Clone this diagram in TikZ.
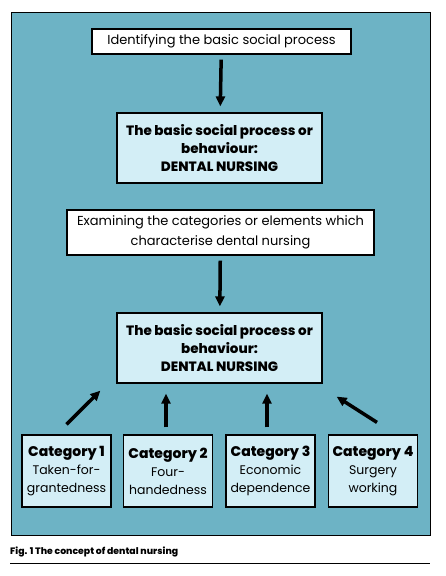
\documentclass[tikz,border=0pt]{standalone}
\usepackage{fontspec}
\setmainfont[BoldFont={Poppins ExtraBold}]{Poppins}
\usetikzlibrary{arrows.meta}
\definecolor{panel}{HTML}{6DB3C5}
\definecolor{pale}{HTML}{D3EEF6}
\newcommand{\cattitle}[1]{{\fontsize{14}{18}\selectfont\bfseries #1}}
\begin{document}
\begin{tikzpicture}[x=1pt,y=-1pt,
	stepbox/.style={draw=black,line width=1.2pt,fill=white,align=center,inner sep=0pt,font=\fontsize{13}{20}\selectfont},
	keybox/.style={draw=black,line width=1.2pt,fill=pale,align=center,inner sep=0pt,font=\fontsize{13.5}{18}\selectfont\bfseries,minimum width=205pt,minimum height=70pt},
	catbox/.style={draw=black,line width=1.2pt,fill=pale,align=center,inner sep=0pt,font=\fontsize{12.5}{18}\selectfont,minimum width=89pt,minimum height=72pt},
	flow/.style={line width=3.5pt,-{Triangle[width=9pt,length=10pt]}}]
	\useasboundingbox (0,0) rectangle (446,576);
	\fill[white] (0,0) rectangle (446,576);
	\draw[fill=panel,line width=0.8pt] (11,12) rectangle (430,535);
	% top half
	\node[stepbox,minimum width=259pt,minimum height=25pt] (ident) at (221.5,41.5) {Identifying the basic social process};
	\node[keybox] (bsp1) at (219.5,148) {The basic social process or\\behaviour:\\DENTAL NURSING};
	\node[stepbox,minimum width=307pt,minimum height=45pt] (exam) at (220.5,232.5) {Examining the categories or elements which\\characterise dental nursing};
	\node[keybox] (bsp2) at (219.5,348) {The basic social process or\\behaviour:\\DENTAL NURSING};
	\draw[flow,shorten <=5pt,shorten >=6pt] (ident) -- (bsp1);
	\draw[flow,shorten <=5pt,shorten >=6pt] (exam) -- (bsp2);
	% categories
	\node[catbox] (cat1) at (66.5,471) {\cattitle{Category 1}\\Taken-for-\\grantedness};
	\node[catbox] (cat2) at (168,471) {\cattitle{Category 2}\\Four-\\handedness};
	\node[catbox] (cat3) at (270.5,471) {\cattitle{Category 3}\\Economic\\dependence};
	\node[catbox] (cat4) at (373,471) {\cattitle{Category 4}\\Surgery\\working};
	\draw[flow] ([shift={(0,-10)}]cat1.north) -- ([shift={(-16,7)}]bsp2.south west);
	\draw[flow] ([shift={(-2,-7)}]cat2.north) -- ([shift={(-53.5,10)}]bsp2.south);
	\draw[flow] ([shift={(-3.5,-7)}]cat3.north) -- ([shift={(47.5,10)}]bsp2.south);
	\draw[flow] ([shift={(4,-12)}]cat4.north) -- ([shift={(14,13)}]bsp2.south east);
	% caption
	\node[anchor=west,inner sep=0pt,font=\fontsize{9.3}{10}\selectfont\bfseries] (cap) at (10,552) {Fig. 1 The concept of dental nursing};
	\draw[line width=0.8pt] (10,563) -- (430,563);
\end{tikzpicture}
\end{document}
